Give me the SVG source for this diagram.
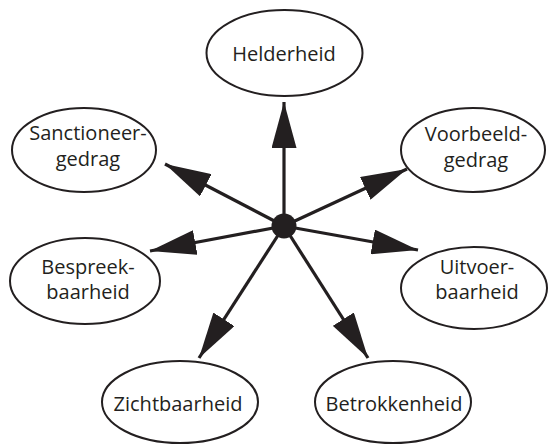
<svg xmlns="http://www.w3.org/2000/svg" width="548" height="445" viewBox="0 0 548 445">
<defs>
<style>
.node ellipse{fill:#fff;stroke:#231f20;stroke-width:2}
.node text{font-family:"Open Sans","DejaVu Sans",sans-serif;font-size:20px;fill:#231f20;text-anchor:middle}
.conn line{stroke:#231f20;stroke-width:3.2}
</style>
<marker id="ah" markerUnits="userSpaceOnUse" markerWidth="46" markerHeight="25" refX="46" refY="12.5" orient="auto" viewBox="0 0 46 25">
<path d="M0,0 L46,12.5 L0,25 Z" fill="#231f20"/>
</marker>
</defs>
<rect width="548" height="445" fill="#fff"/>
<g id="n-helderheid" class="node"><ellipse cx="284.5" cy="53" rx="78" ry="43"/><text x="284" y="61">Helderheid</text></g>
<g id="n-sanctioneergedrag" class="node"><ellipse cx="84" cy="150" rx="72" ry="42"/><text x="88" y="140">Sanctioneer-</text><text x="88" y="166">gedrag</text></g>
<g id="n-voorbeeldgedrag" class="node"><ellipse cx="473" cy="150" rx="72" ry="42"/><text x="476" y="141">Voorbeeld-</text><text x="476" y="167">gedrag</text></g>
<g id="n-bespreekbaarheid" class="node"><ellipse cx="85" cy="281" rx="75" ry="43"/><text x="88" y="274">Bespreek-</text><text x="88" y="299">baarheid</text></g>
<g id="n-uitvoerbaarheid" class="node"><ellipse cx="474" cy="288" rx="73" ry="41"/><text x="477" y="274">Uitvoer-</text><text x="477" y="299">baarheid</text></g>
<g id="n-zichtbaarheid" class="node"><ellipse cx="180" cy="402" rx="78" ry="41"/><text x="178" y="411">Zichtbaarheid</text></g>
<g id="n-betrokkenheid" class="node"><ellipse cx="393" cy="402" rx="78" ry="41"/><text x="394" y="411">Betrokkenheid</text></g>
<g id="connectors" class="conn">
<line x1="284" y1="226" x2="284" y2="102" marker-end="url(#ah)"/>
<line x1="284" y1="226" x2="165" y2="164" marker-end="url(#ah)"/>
<line x1="284" y1="226" x2="407" y2="169" marker-end="url(#ah)"/>
<line x1="284" y1="226" x2="150" y2="251" marker-end="url(#ah)"/>
<line x1="284" y1="226" x2="418" y2="250" marker-end="url(#ah)"/>
<line x1="284" y1="226" x2="199" y2="358" marker-end="url(#ah)"/>
<line x1="284" y1="226" x2="368" y2="358" marker-end="url(#ah)"/>
<circle cx="284" cy="226" r="12.5" fill="#231f20"/>
</g>
</svg>
